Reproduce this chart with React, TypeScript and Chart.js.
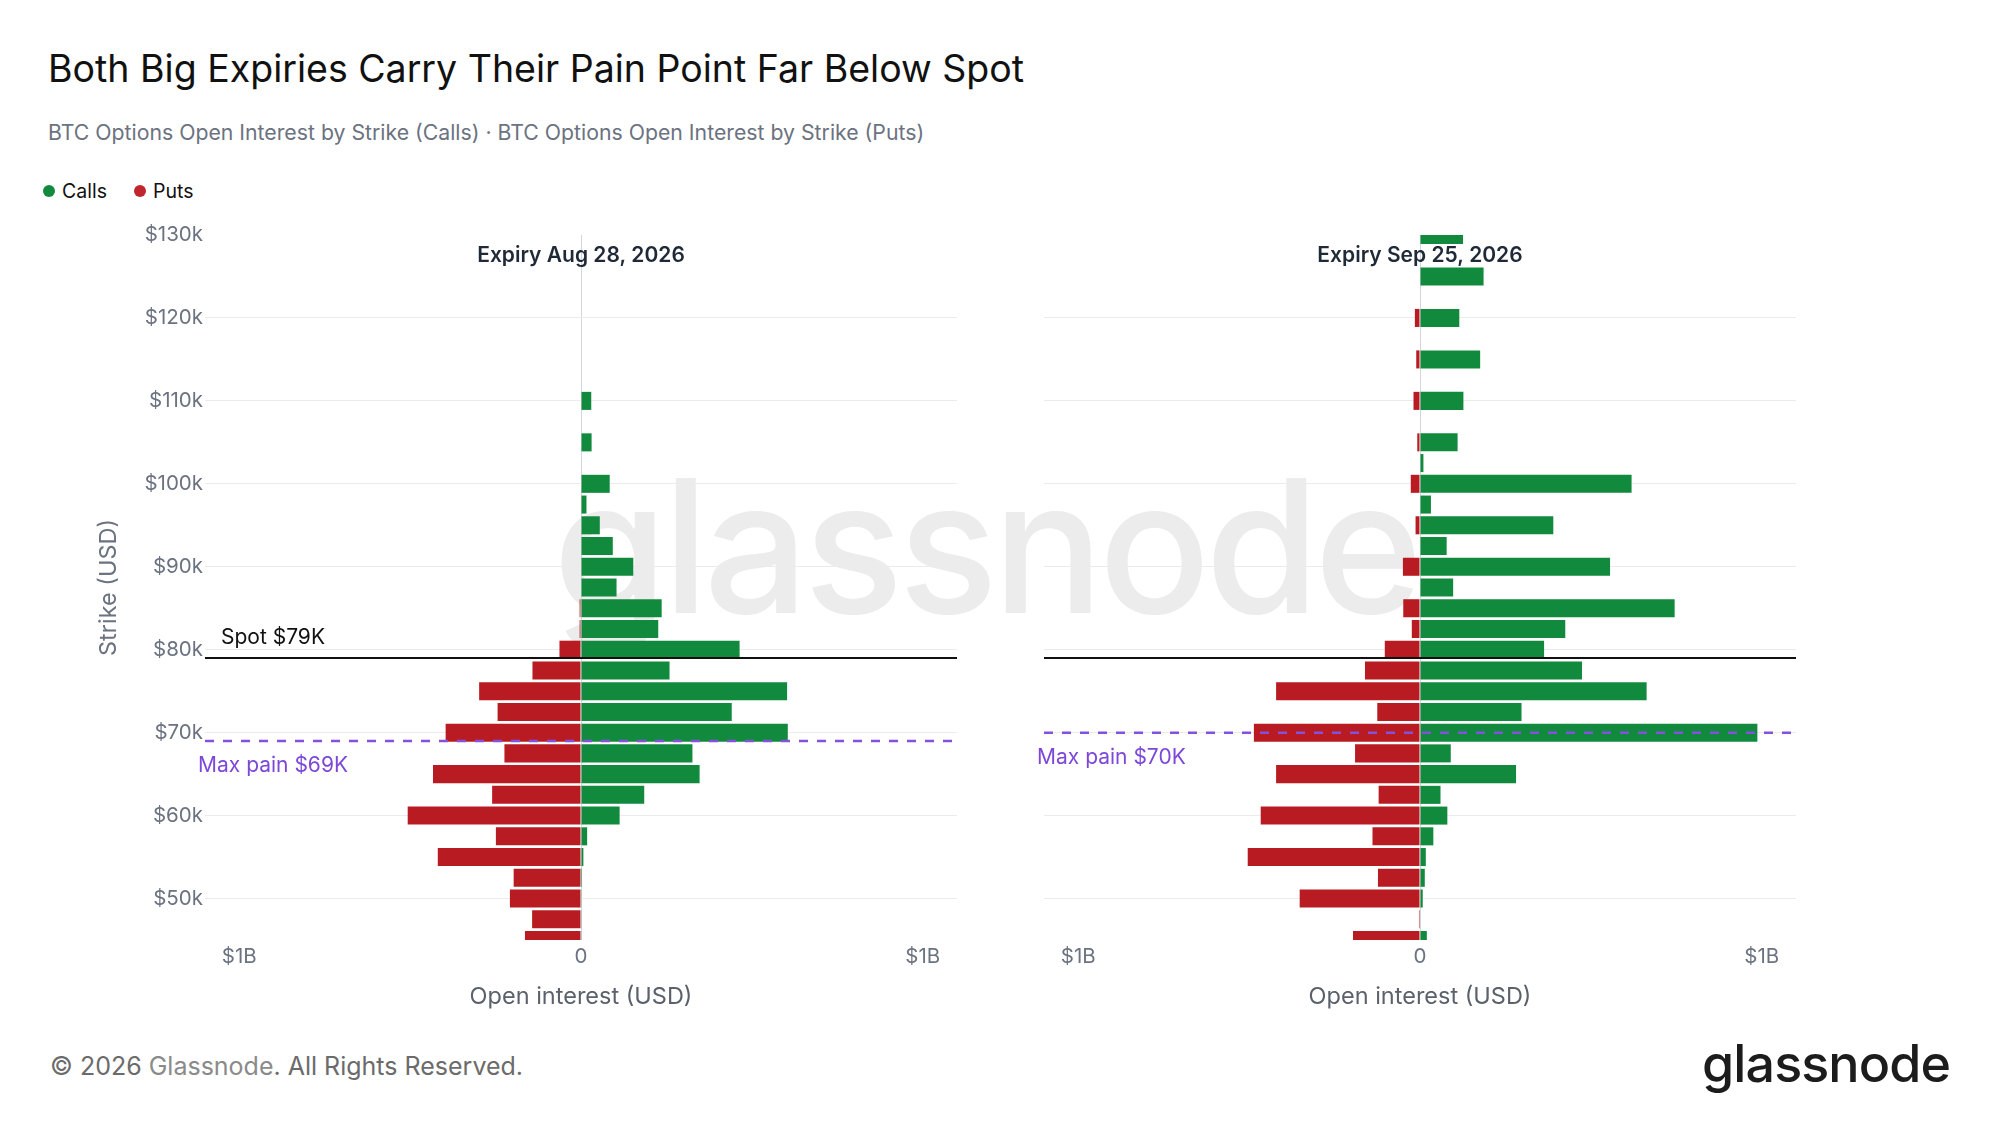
import React, { useEffect, useRef } from "react";
import { Chart, registerables } from "chart.js";

Chart.register(...registerables);

// ---- data (values in $ billions) ----
const strikes = [
  45000, 47500, 50000, 52500, 55000, 57500, 60000, 62500, 65000, 67500,
  70000, 72500, 75000, 77500, 80000, 82500, 85000, 87500, 90000, 92500,
  95000, 97500, 100000, 102500, 105000, 107500, 110000, 112500, 115000, 117500,
  120000, 122500, 125000, 127500, 130000,
];

const augCalls = [
  0.001, 0.001, 0.002, 0.003, 0.007, 0.018, 0.113, 0.185, 0.347, 0.326,
  0.605, 0.441, 0.603, 0.259, 0.464, 0.226, 0.236, 0.104, 0.153, 0.093,
  0.055, 0.016, 0.084, 0, 0.031, 0, 0.03, 0, 0, 0,
  0, 0, 0, 0, 0,
];
const augPuts = [
  0.164, 0.143, 0.208, 0.197, 0.419, 0.249, 0.507, 0.26, 0.433, 0.224,
  0.396, 0.244, 0.298, 0.142, 0.063, 0.004, 0.004, 0, 0, 0,
  0, 0, 0, 0, 0, 0, 0, 0, 0, 0,
  0, 0, 0, 0, 0,
];
const sepCalls = [
  0.02, 0, 0.008, 0.014, 0.017, 0.039, 0.08, 0.06, 0.281, 0.09,
  0.987, 0.297, 0.663, 0.474, 0.363, 0.425, 0.745, 0.097, 0.556, 0.078,
  0.39, 0.032, 0.619, 0.01, 0.11, 0, 0.127, 0, 0.176, 0,
  0.115, 0, 0.186, 0, 0.126,
];
const sepPuts = [
  0.196, 0.003, 0.352, 0.123, 0.504, 0.139, 0.466, 0.121, 0.421, 0.19,
  0.486, 0.125, 0.421, 0.161, 0.103, 0.024, 0.049, 0, 0.05, 0,
  0.013, 0, 0.027, 0, 0.008, 0, 0.019, 0, 0.011, 0,
  0.015, 0, 0, 0, 0,
];

const yTicks = [50000, 60000, 70000, 80000, 90000, 100000, 110000, 120000, 130000];
const xTicks = [-1, 0, 1];
const spotPrice = 79000;
const augMaxPain = 69000;
const sepMaxPain = 70000;

const GREEN = "#128a3e";
const RED = "#b81c22";
const PURPLE_LINE = "#8450dc";
const PURPLE_TEXT = "#7d47d8";
const TICK = "#6b7280";
const FONT = "Inter, 'Noto Sans', sans-serif";

type PanelProps = {
  left: number;
  top: number;
  width: number;
  height: number;
  yAxisWidth: number;
  padRight: number;
  padTop: number;
  xAxisHeight: number;
  calls: number[];
  puts: number[];
  title: string;
  maxPain: number;
  maxPainLabel: string;
  showYLabels: boolean;
  showSpotLabel: boolean;
};

function Panel(p: PanelProps) {
  const ref = useRef<HTMLCanvasElement | null>(null);

  useEffect(() => {
    const canvas = ref.current;
    if (!canvas) return;

    const overlay = {
      id: "overlay",
      afterDatasetsDraw(chart: any) {
        const ctx = chart.ctx as CanvasRenderingContext2D;
        const area = chart.chartArea;
        const xs = chart.scales.x;
        const ys = chart.scales.y;
        const x0 = xs.getPixelForValue(0);
        ctx.save();

        // spot line
        const sy = ys.getPixelForValue(spotPrice);
        ctx.strokeStyle = "#111111";
        ctx.lineWidth = 2;
        ctx.setLineDash([]);
        ctx.beginPath();
        ctx.moveTo(area.left, sy);
        ctx.lineTo(area.right, sy);
        ctx.stroke();

        // max pain dashed line
        const my = ys.getPixelForValue(p.maxPain);
        ctx.strokeStyle = PURPLE_LINE;
        ctx.lineWidth = 2.5;
        ctx.setLineDash([9, 9]);
        ctx.beginPath();
        ctx.moveTo(area.left, my);
        ctx.lineTo(area.right, my);
        ctx.stroke();
        ctx.setLineDash([]);

        ctx.textAlign = "left";
        ctx.textBaseline = "alphabetic";
        if (p.showSpotLabel) {
          ctx.fillStyle = "#111111";
          ctx.font = `21px ${FONT}`;
          ctx.fillText("Spot $79K", area.left + 16, sy - 14);
        }
        ctx.fillStyle = PURPLE_TEXT;
        ctx.font = `21px ${FONT}`;
        ctx.fillText(p.maxPainLabel, area.left - 7, my + 31.5);

        // panel title
        ctx.textAlign = "center";
        ctx.fillStyle = "#1f2937";
        ctx.font = `600 21px ${FONT}`;
        ctx.fillText(p.title, x0, area.top + 26.5);

        // x axis title
        ctx.fillStyle = "#5b616b";
        ctx.font = `23.5px ${FONT}`;
        ctx.textBaseline = "middle";
        ctx.fillText("Open interest (USD)", x0, area.bottom + 57);

        // y axis title
        if (p.showYLabels) {
          ctx.save();
          ctx.translate(108.5, (area.top + area.bottom) / 2);
          ctx.rotate(-Math.PI / 2);
          ctx.fillStyle = TICK;
          ctx.font = `23.5px ${FONT}`;
          ctx.textAlign = "center";
          ctx.textBaseline = "middle";
          ctx.fillText("Strike (USD)", 0, 0);
          ctx.restore();
        }
        ctx.restore();
      },
    };

    const chart = new Chart(canvas, {
      type: "bar",
      data: {
        datasets: [
          {
            label: "Calls",
            data: strikes.map((s, i) => ({ x: p.calls[i], y: s })),
            backgroundColor: GREEN,
            borderWidth: 0,
            grouped: false,
            clip: 0,
            barPercentage: 0.87,
            categoryPercentage: 1,
          } as any,
          {
            label: "Puts",
            data: strikes.map((s, i) => ({ x: -p.puts[i], y: s })),
            backgroundColor: RED,
            borderWidth: 0,
            grouped: false,
            clip: 0,
            barPercentage: 0.87,
            categoryPercentage: 1,
          } as any,
        ],
      },
      options: {
        indexAxis: "y",
        animation: false,
        responsive: false,
        maintainAspectRatio: false,
        devicePixelRatio: 1,
        events: [],
        layout: { padding: { left: 0, right: p.padRight, top: p.padTop, bottom: 0 } },
        plugins: { legend: { display: false }, tooltip: { enabled: false } },
        scales: {
          x: {
            type: "linear",
            min: -1.1,
            max: 1.1,
            afterBuildTicks: (ax: any) => {
              ax.ticks = xTicks.map((v) => ({ value: v }));
            },
            afterFit: (s: any) => {
              s.height = p.xAxisHeight;
            },
            ticks: {
              autoSkip: false,
              maxRotation: 0,
              padding: 5,
              color: TICK,
              font: { family: FONT, size: 20.5 },
              callback: (v: any) => (Number(v) === 0 ? "0" : `$${Math.abs(Number(v))}B`),
            },
            grid: {
              drawTicks: false,
              lineWidth: 1,
              color: (c: any) => (c.tick && c.tick.value === 0 ? "#d3d6dc" : "rgba(0,0,0,0)"),
            },
            border: { display: false },
          },
          y: {
            type: "linear",
            min: 45000,
            max: 130000,
            offset: false,
            afterBuildTicks: (ax: any) => {
              ax.ticks = yTicks.map((v) => ({ value: v }));
            },
            afterFit: (s: any) => {
              s.width = p.yAxisWidth;
            },
            ticks: {
              display: p.showYLabels,
              autoSkip: false,
              padding: 2,
              color: TICK,
              font: { family: FONT, size: 20.5 },
              callback: (v: any) => `$${Number(v) / 1000}k`,
            },
            grid: {
              offset: false,
              drawTicks: false,
              lineWidth: 1,
              color: (c: any) => (c.tick && c.tick.value === 130000 ? "rgba(0,0,0,0)" : "#ebebeb"),
            },
            border: { display: false },
          },
        },
      } as any,
      plugins: [overlay],
    });

    return () => chart.destroy();
  }, []);

  return (
    <canvas
      ref={ref}
      width={p.width}
      height={p.height}
      style={{ position: "absolute", left: p.left, top: p.top, width: p.width, height: p.height, zIndex: 2 }}
    />
  );
}

export default function App() {
  return (
    <div
      style={{
        position: "absolute",
        left: 0,
        top: 0,
        width: 2000,
        height: 1125,
        overflow: "hidden",
        background: "#ffffff",
        fontFamily: FONT,
      }}
    >
      {/* watermark */}
      <div
        style={{
          position: "absolute",
          left: 553,
          top: 454,
          fontSize: 185,
          lineHeight: "185px",
          letterSpacing: -5.2,
          fontWeight: 500,
          color: "#ececec",
          zIndex: 1,
          whiteSpace: "nowrap",
        }}
      >
        glassnode
      </div>

      <div
        style={{
          position: "absolute",
          left: 48,
          top: 49.7,
          fontSize: 37.5,
          lineHeight: "37.5px",
          color: "#111111",
          whiteSpace: "nowrap",
        }}
      >
        Both Big Expiries Carry Their Pain Point Far Below Spot
      </div>
      <div
        style={{
          position: "absolute",
          left: 48,
          top: 121.7,
          fontSize: 21.25,
          lineHeight: "21.25px",
          color: TICK,
          whiteSpace: "nowrap",
        }}
      >
        BTC Options Open Interest by Strike (Calls) · BTC Options Open Interest by Strike (Puts)
      </div>

      {/* legend */}
      <div style={{ position: "absolute", left: 42.5, top: 185, width: 12, height: 12, borderRadius: 6, background: GREEN }} />
      <div style={{ position: "absolute", left: 62, top: 181.5, fontSize: 19.5, lineHeight: "19.5px", color: "#111111" }}>Calls</div>
      <div style={{ position: "absolute", left: 134, top: 185, width: 12, height: 12, borderRadius: 6, background: "#c0262d" }} />
      <div style={{ position: "absolute", left: 153, top: 181.5, fontSize: 19.5, lineHeight: "19.5px", color: "#111111" }}>Puts</div>

      <Panel
        left={0}
        top={200}
        width={1000}
        height={850}
        yAxisWidth={205}
        padRight={43}
        padTop={35}
        xAxisHeight={110}
        calls={augCalls}
        puts={augPuts}
        title="Expiry Aug 28, 2026"
        maxPain={augMaxPain}
        maxPainLabel="Max pain $69K"
        showYLabels={true}
        showSpotLabel={true}
      />
      <Panel
        left={1000}
        top={200}
        width={1000}
        height={850}
        yAxisWidth={44}
        padRight={204}
        padTop={35}
        xAxisHeight={110}
        calls={sepCalls}
        puts={sepPuts}
        title="Expiry Sep 25, 2026"
        maxPain={sepMaxPain}
        maxPainLabel="Max pain $70K"
        showYLabels={false}
        showSpotLabel={false}
      />

      {/* footer */}
      <div
        style={{
          position: "absolute",
          left: 50,
          top: 1053.5,
          fontSize: 25,
          lineHeight: "25px",
          color: "#6b6b6b",
          whiteSpace: "nowrap",
        }}
      >
        © 2026 <span style={{ color: "#8a8a8a" }}>Glassnode</span>. All Rights Reserved.
      </div>
      <div
        style={{
          position: "absolute",
          left: 1702,
          top: 1038.4,
          fontSize: 52,
          lineHeight: "52px",
          fontWeight: 500,
          letterSpacing: -0.9,
          color: "#1c1c1c",
          whiteSpace: "nowrap",
        }}
      >
        glassnode
      </div>
    </div>
  );
}
